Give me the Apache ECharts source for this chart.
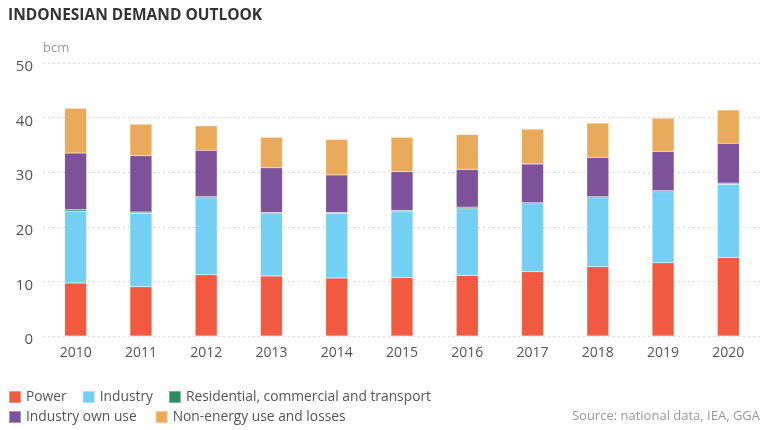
<!DOCTYPE html>
<html>
<head>
<meta charset="utf-8">
<script src="https://cdn.jsdelivr.net/npm/echarts@6/dist/echarts.min.js"></script>
<style>
  html, body { margin: 0; padding: 0; background: #fff; }
  #chart { width: 770px; height: 430px; }
</style>
</head>
<body>
<div id="chart"></div>
<script>
var years = ['2010', '2011', '2012', '2013', '2014', '2015', '2016', '2017', '2018', '2019', '2020'];
var power = [9.7, 9.0, 11.2, 11.0, 10.6, 10.7, 11.1, 11.8, 12.7, 13.4, 14.4];
var industry = [13.1, 13.5, 14.1, 11.4, 11.9, 12.1, 12.2, 12.4, 12.6, 13.0, 13.4];
var residential = [0.3, 0.2, 0.2, 0.2, 0.1, 0.2, 0.3, 0.2, 0.2, 0.2, 0.2];
var industryOwnUse = [10.4, 10.3, 8.5, 8.2, 6.9, 7.1, 6.9, 7.1, 7.2, 7.2, 7.3];
var nonEnergy = [8.2, 5.8, 4.5, 5.6, 6.5, 6.3, 6.4, 6.4, 6.3, 6.1, 6.1];
var yTicks = [0, 10, 20, 30, 40, 50];

window.onload = function () {
    var font = '"Open Sans", "Noto Sans", sans-serif';
    var chart = echarts.init(document.getElementById('chart'));

    function bar(name, data, color) {
        return {
            name: name,
            type: 'bar',
            stack: 'total',
            barWidth: 22,
            data: data,
            itemStyle: { color: color, borderColor: 'rgba(255,255,255,0.35)', borderWidth: 0.5 }
        };
    }

    var legendText = { color: '#555', fontSize: 13.8, fontFamily: font };

    chart.setOption({
        animation: false,
        title: [{
            text: 'INDONESIAN DEMAND OUTLOOK',
            left: 8,
            top: 8,
            padding: 0,
            textStyle: { color: '#333', fontSize: 15.5, fontWeight: 'bold', fontFamily: font }
        }, {
            text: 'Source: national data, IEA, GGA',
            right: 10,
            top: 410,
            padding: 0,
            textStyle: { color: '#999', fontSize: 13, fontWeight: 'normal', fontFamily: font }
        }],
        legend: [{
            left: 8,
            top: 390,
            padding: 0,
            itemWidth: 12,
            itemHeight: 12,
            itemGap: 15,
            icon: 'rect',
            textStyle: legendText,
            data: ['Power', 'Industry', 'Residential, commercial and transport']
        }, {
            left: 8,
            top: 410,
            padding: 0,
            itemWidth: 12,
            itemHeight: 12,
            itemGap: 18,
            icon: 'rect',
            textStyle: legendText,
            data: ['Industry own use', 'Non-energy use and losses']
        }],
        grid: { left: 43, right: 9, top: 63, bottom: 94 },
        xAxis: {
            type: 'category',
            data: years,
            axisLine: { show: false },
            axisTick: { show: false },
            axisLabel: { color: '#555', fontSize: 14, fontFamily: font, margin: 10 }
        },
        yAxis: {
            type: 'value',
            min: yTicks[0],
            max: yTicks[yTicks.length - 1],
            interval: 10,
            name: 'bcm',
            nameLocation: 'end',
            nameGap: 8,
            nameTextStyle: { color: '#999', fontSize: 13, fontFamily: font, align: 'left' },
            axisLine: { show: false },
            axisTick: { show: false },
            axisLabel: { color: '#555', fontSize: 15, fontFamily: font, margin: 10, verticalAlign: 'top', lineHeight: 8 },
            splitLine: { lineStyle: { color: '#d8d8d8', type: [2, 3] } }
        },
        series: [
            bar('Power', power, '#F15A40'),
            bar('Industry', industry, '#74CFF4'),
            bar('Residential, commercial and transport', residential, '#2E8B62'),
            bar('Industry own use', industryOwnUse, '#7E519B'),
            bar('Non-energy use and losses', nonEnergy, '#EAAA5B')
        ]
    });
};
</script>
</body>
</html>
